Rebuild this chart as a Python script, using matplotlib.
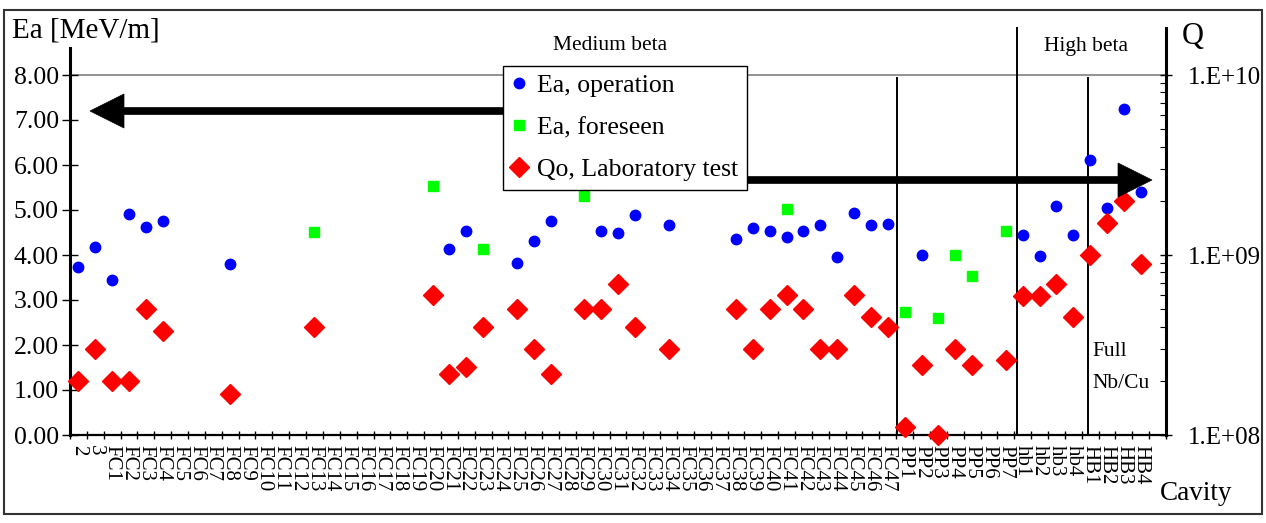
import numpy as np
import matplotlib
matplotlib.use("Agg")
import matplotlib.pyplot as plt
from matplotlib.patches import Rectangle, Polygon
from matplotlib.lines import Line2D
from matplotlib.ticker import FixedLocator, NullFormatter

SERIF = ['Liberation Serif', 'DejaVu Serif']
plt.rcParams['font.family'] = SERIF

nan = np.nan
cavities = (["2", "3"] + [f"FC{i}" for i in range(1, 48)] +
            [f"PP{i}" for i in range(1, 8)] + [f"hb{i}" for i in range(1, 5)] +
            [f"HB{i}" for i in range(1, 5)] + [""])

# Ea in operation [MeV/m]
ea_operation = [3.74, 4.18, 3.44, 4.92, 4.62, 4.75, nan, nan, nan, 3.79,
                nan, nan, nan, nan, nan, nan, nan, nan, nan, nan,
                nan, nan, 4.14, 4.53, nan, nan, 3.82, 4.31, 4.75, nan,
                nan, 4.53, 4.49, 4.88, nan, 4.66, nan, nan, nan, 4.36,
                4.61, 4.53, 4.40, 4.53, 4.66, 3.96, 4.93, 4.66, 4.70, nan,
                4.00, nan, nan, nan, nan, nan, 4.45, 3.97, 5.10, 4.45,
                6.11, 5.05, 7.25, 5.40, nan]
# Ea foreseen [MeV/m]
ea_foreseen = [nan, nan, nan, nan, nan, nan, nan, nan, nan, nan,
               nan, nan, nan, nan, 4.52, nan, nan, nan, nan, nan,
               nan, 5.54, nan, nan, 4.14, nan, nan, nan, nan, nan,
               5.31, nan, nan, nan, nan, nan, nan, nan, nan, nan,
               nan, nan, 5.02, nan, nan, nan, nan, nan, nan, 2.74,
               nan, 2.60, 4.00, 3.53, nan, 4.53, nan, nan, nan, nan,
               nan, nan, nan, nan, nan]
# Qo laboratory test
q_lab = [2.0e8, 3.0e8, 2.0e8, 2.0e8, 5.0e8, 3.8e8, nan, nan, nan, 1.7e8,
         nan, nan, nan, nan, 4.0e8, nan, nan, nan, nan, nan,
         nan, 6.0e8, 2.17e8, 2.4e8, 4.0e8, nan, 5.0e8, 3.0e8, 2.17e8, nan,
         5.0e8, 5.0e8, 6.9e8, 4.0e8, nan, 3.0e8, nan, nan, nan, 5.0e8,
         3.0e8, 5.0e8, 6.0e8, 5.0e8, 3.0e8, 3.0e8, 6.0e8, 4.5e8, 4.0e8, 1.11e8,
         2.46e8, 1.0e8, 3.0e8, 2.46e8, nan, 2.6e8, 5.9e8, 5.9e8, 6.9e8, 4.5e8,
         1.0e9, 1.5e9, 2.0e9, 8.9e8, nan]

W, H = 1266, 523
fig = plt.figure(figsize=(W / 100, H / 100), dpi=100)

def fx(px):
    return px / W

def fy(py):
    return 1 - py / H

ax = fig.add_axes([fx(70), fy(435), (1166 - 70) / W, (435 - 75) / H])
n = len(cavities)
xc = np.arange(n) + 0.5
ax.set_xlim(0, n)
ax.set_ylim(0, 8)
for s in ax.spines.values():
    s.set_visible(False)

ax2 = ax.twinx()
ax2.set_yscale('log')
ax2.set_ylim(1e8, 1e10)
for s in ax2.spines.values():
    s.set_visible(False)

# axis lines (extending above plot like the original)
ax.add_line(Line2D([0, 0], [0, 8.6], color='black', lw=2.2, clip_on=False, zorder=3))
ax.add_line(Line2D([n, n], [0, 9.05], color='black', lw=2.2, clip_on=False, zorder=3))
ax.add_line(Line2D([0, n], [0, 0], color='black', lw=1.6, clip_on=False, zorder=3))
ax.add_line(Line2D([0, n], [8, 8], color='#808080', lw=1.2, clip_on=False, zorder=1))

# separators
ax.add_line(Line2D([49.05, 49.05], [0, 7.93], color='black', lw=1.4, clip_on=False, zorder=2))
ax.add_line(Line2D([56.14, 56.14], [0, 9.05], color='black', lw=1.4, clip_on=False, zorder=2))
ax.add_line(Line2D([60.35, 60.35], [0, 7.93], color='black', lw=1.4, clip_on=False, zorder=2))

# ticks
ax.set_xticks(np.arange(0, n + 1))
ax.set_xticklabels([])
ax.set_xticks(xc, minor=True)
ax.set_xticklabels(cavities, minor=True, rotation=270, fontsize=15,
                   va='top', ha='center', family=SERIF)
ax.tick_params(axis='x', which='major', direction='inout', length=6, width=1)
ax.tick_params(axis='x', which='minor', length=0, pad=7)

ax.set_yticks(np.arange(0, 9))
ax.set_yticklabels([f"{v:.2f}" for v in range(0, 9)], fontsize=18.5, family=SERIF)
ax.tick_params(axis='y', which='major', direction='inout', length=12, width=1, pad=2)

ax2.set_yticks([1e8, 1e9, 1e10])
ax2.set_yticklabels(["1.E+08", "1.E+09", "1.E+10"], fontsize=18, family=SERIF)
ax2.tick_params(axis='y', which='major', direction='inout', length=9, width=1, pad=11)
ax2.yaxis.set_minor_locator(FixedLocator([k * 10 ** e for e in (8, 9) for k in range(2, 10)]))
ax2.yaxis.set_minor_formatter(NullFormatter())
ax2.tick_params(axis='y', which='minor', direction='in', length=4, width=0.8)

# data
h1, = ax.plot(xc, ea_operation, 'o', color='#0000ff', ms=7.5, ls='none', zorder=6,
              label='Ea, operation', clip_on=False)
h2, = ax.plot(xc, ea_foreseen, 's', color='#00ff00', ms=7.5, ls='none', zorder=6,
              label='Ea, foreseen', clip_on=False)
h3, = ax2.plot(xc, q_lab, 'D', color='#ff0000', ms=10, ls='none', zorder=6,
               label='Qo, Laboratory test', clip_on=False)
ax2.set_zorder(ax.get_zorder() + 1)
ax2.patch.set_visible(False)

# arrows (figure pixel geometry)
def arrow(x0, x1, y, hl=34, hw=17, sw=3.5):
    d = 1 if x1 > x0 else -1
    xb = x1 - d * hl
    pts = [(x0, y - sw), (xb, y - sw), (xb, y - hw), (x1, y), (xb, y + hw),
           (xb, y + sw), (x0, y + sw)]
    fig.patches.append(Polygon([(fx(a), fy(b)) for a, b in pts], closed=True,
                               transform=fig.transFigure, facecolor='black',
                               edgecolor='black', lw=0.5, zorder=4))

arrow(510, 90, 111)
arrow(740, 1152, 180)

# legend
leg = fig.legend(handles=[h1, h2, h3], loc='upper left',
                 bbox_to_anchor=(fx(503), fy(66)), bbox_transform=fig.transFigure,
                 prop={'family': SERIF, 'size': 18.5}, frameon=True, fancybox=False,
                 edgecolor='black', framealpha=1, handlelength=0.6, handletextpad=0.4,
                 borderpad=0.33, labelspacing=0.74, borderaxespad=0)
leg.get_frame().set_linewidth(1.0)
leg.set_zorder(10)

# texts
fig.text(fx(12), fy(31), "Ea [MeV/m]", fontsize=21, va='center', ha='left')
fig.text(fx(1182), fy(36), "Q", fontsize=22, va='center', ha='left')
fig.text(fx(1160), fy(494), "Cavity", fontsize=19.5, va='center', ha='left')
fig.text(fx(610), fy(46), "Medium beta", fontsize=15.5, va='center', ha='center')
fig.text(fx(1086), fy(46), "High beta", fontsize=15.5, va='center', ha='center')
fig.text(fx(1092), fy(352), "Full", fontsize=15.5, va='center', ha='left')
fig.text(fx(1092), fy(384), "Nb/Cu", fontsize=15.5, va='center', ha='left')

# outer frame
fig.patches.append(Rectangle((fx(4), fy(514)), (1262 - 4) / W, (514 - 10) / H,
                             transform=fig.transFigure, fill=False,
                             edgecolor='#333333', lw=1.5))

fig.savefig("out.png", dpi=100)
